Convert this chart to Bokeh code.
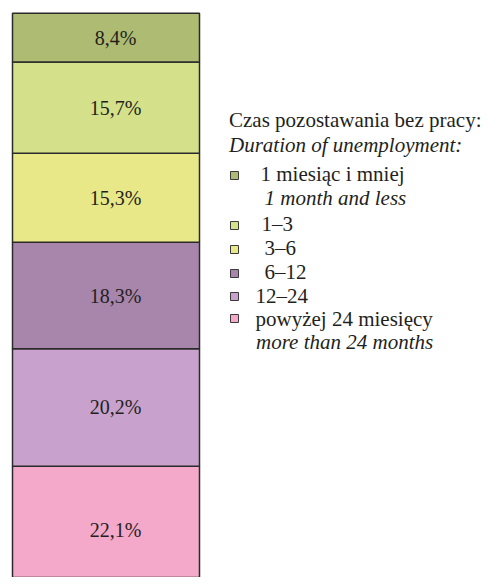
import numpy as np
from bokeh.plotting import figure
from bokeh.models import Range1d, ColumnDataSource
from bokeh.core.properties import value
from bokeh.embed import file_html
from bokeh.resources import INLINE

# ---- data (stack order: bottom to top) ----
categories = ["powyżej 24 miesięcy", "12–24", "6–12", "3–6", "1–3", "1 miesiąc i mniej"]
categories_en = ["more than 24 months", "", "", "", "", "1 month and less"]
shares = [22.1, 20.2, 18.3, 15.3, 15.7, 8.4]
colors = ["#F4A8CA", "#C8A2CC", "#A886AC", "#E8E888", "#D4E08A", "#AEBB72"]
legend_title = "Czas pozostawania bez pracy:"
legend_title_en = "Duration of unemployment:"

# ---- layout constants ----
W, H = 481, 577
BAR_X, BAR_W = 105.5, 187.0
LABEL_X = 115.0
FONT = "Liberation Serif"
FS = "20px"
LFS = "21px"
TXT = "#231F20"

tops = np.cumsum(shares)
bottoms = tops - np.array(shares)
labels = [f"{v:.1f}%".replace(".", ",") for v in shares]

src = ColumnDataSource(dict(
    bottom=bottoms, top=tops, color=colors,
    mid=(bottoms + tops) / 2, label=labels,
))

p = figure(width=W, height=H, output_backend="svg", toolbar_location=None,
           x_range=Range1d(0, W), y_range=Range1d(2.96, 102.18),
           x_axis_location=None, y_axis_location=None,
           min_border=0, outline_line_color=None)
p.grid.visible = False
p.background_fill_color = "white"
p.border_fill_color = "white"

p.vbar(x=BAR_X, width=BAR_W, bottom="bottom", top="top", fill_color="color",
       line_color="#2A2A2A", line_width=1.5, source=src)
p.text(x=LABEL_X, y="mid", text="label", source=src,
       text_font=value(FONT), text_font_size=FS, text_color=TXT,
       text_align="center", text_baseline="middle")

# ---- legend (pixel coordinates, y measured from top) ----
p.extra_y_ranges = {"px": Range1d(H, 0)}

order = list(range(len(categories)))[::-1]
leg_main = [categories[i] for i in order]
leg_en = [categories_en[i] for i in order]
leg_col = [colors[i] for i in order]
leg_text_x = [260, 261, 264, 264, 255, 255]
leg_base_y = [173.5, 223.5, 247.5, 271.5, 295, 318]
leg_mark_y = [175, 225, 249, 273, 296, 318]
leg_en_x = [264, 0, 0, 0, 0, 255.5]
leg_en_y = [197.5, 0, 0, 0, 0, 341]

p.scatter(x=234, y=leg_mark_y, marker="square", size=8, fill_color=leg_col,
          line_color="#3A3A3A", line_width=1, y_range_name="px")

norm = ColumnDataSource(dict(
    x=[228.5] + leg_text_x,
    y=[119.5] + leg_base_y,
    t=[legend_title] + leg_main,
))
p.text(x="x", y="y", text="t", source=norm, y_range_name="px",
       text_font=value(FONT), text_font_size=LFS, text_color=TXT,
       text_align="left", text_baseline="alphabetic")

ital_x = [228.5] + [leg_en_x[i] for i in range(len(leg_en)) if leg_en[i]]
ital_y = [144.5] + [leg_en_y[i] for i in range(len(leg_en)) if leg_en[i]]
ital_t = [legend_title_en] + [t for t in leg_en if t]
p.text(x=ital_x, y=ital_y, text=ital_t, y_range_name="px",
       text_font=value(FONT), text_font_size=LFS, text_color=TXT,
       text_font_style="italic", text_align="left", text_baseline="alphabetic")

open("out.html", "w").write(file_html(p, INLINE))
